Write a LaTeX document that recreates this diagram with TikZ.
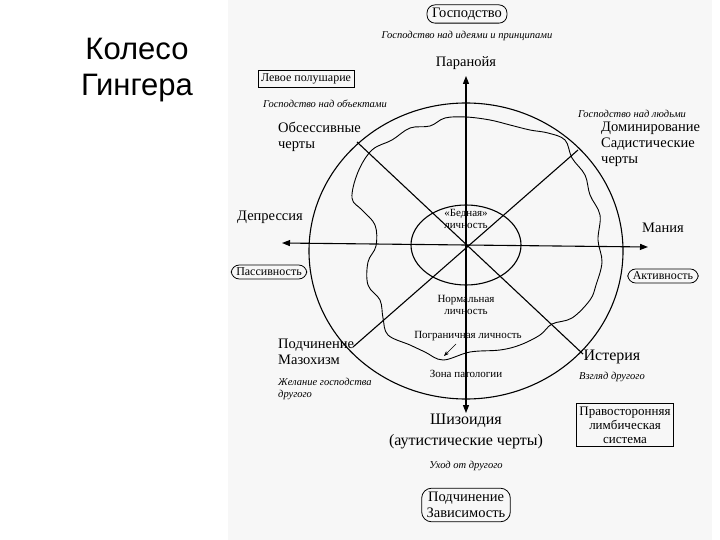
\documentclass[tikz,border=0pt]{standalone}
\usepackage{fontspec}
\setmainfont{Liberation Serif}
\newfontfamily\titlefont{Liberation Sans}
\usetikzlibrary{arrows.meta}
\begin{document}
\begin{tikzpicture}[x=1pt,y=-1pt,
  lbl/.style={font=\fontsize{14.5}{16}\selectfont,align=center,inner sep=1pt},
  sml/.style={font=\fontsize{11}{12.5}\selectfont,align=center,inner sep=1pt},
  itl/.style={font=\fontsize{10.5}{12.5}\selectfont\itshape,align=left,inner sep=1pt},
  rbox/.style={lbl,draw,rounded corners=8pt,inner xsep=5pt,inner ysep=3pt,thick},
  sbox/.style={lbl,draw,inner sep=3pt,thick},
  ln/.style={line width=1.1pt},
  arr/.style={ln,-{Triangle[length=8pt,width=6pt]}}]
\useasboundingbox (0,0) rectangle (720,540);
\fill[white] (0,0) rectangle (720,540);
\fill[gray!6] (228,0) rectangle (712,540);
\node[font=\titlefont\fontsize{31}{36}\selectfont,align=center] (title) at (137,70) {Колесо\\Гингера};
% circles
\draw[ln] (466,251) ellipse [x radius=157,y radius=148];
\draw[ln] (466,245) ellipse [x radius=55,y radius=40];
% wavy zone
\draw[line width=0.9pt] plot[smooth cycle,tension=0.6] coordinates{
(352,198)(358,172)(372,150)(392,140)(410,128)(430,126)(445,118)(466,117)(490,120)(510,125)(530,130)(548,133)(565,140)(572,158)(585,175)(590,195)(600,215)(598,240)(602,262)(596,285)(590,300)(572,318)(552,324)(540,335)(520,345)(500,350)(470,352)(443,360)(425,352)(410,345)(388,335)(383,318)(380,300)(368,285)(368,262)(376,246)(375,225)(362,210)};
% axes
\coordinate (c) at (466,245);
\coordinate (up) at (466,76);
\coordinate (dn) at (466,413);
\coordinate (lf) at (282,243);
\coordinate (rt) at (648,247);
\coordinate (zb) at (466,370);
\draw[arr] (zb) -- (up);
\draw[arr] (c) -- (dn);
\draw[arr] (c) -- (lf);
\draw[arr] (c) -- (rt);
\coordinate (ul) at (357,142);
\coordinate (dr) at (583,354);
\coordinate (ur) at (578,150);
\coordinate (dl) at (353,347);
\draw[ln] (ul) -- (dr);
\draw[ln] (ur) -- (dl);
% texts top
\node[rbox] (gosp) at (467,14) {Господство};
\node[itl] (gi) at (467,36) {Господство над идеями и принципами};
\node[lbl] (par) at (466,63) {Паранойя};
\node[sbox,font=\fontsize{12}{13}\selectfont] (lp) at (306,79) {Левое полушарие};
\node[itl] (go) at (325,104) {Господство над объектами};
\node[lbl,align=left,anchor=north west] (obs) at (277,121) {Обсессивные\\черты};
\node[itl] (gl) at (632,114) {Господство над людьми};
\node[lbl,align=left,anchor=north west] (dom) at (600,121) {Доминирование\\Садистические\\черты};
% sides
\node[lbl] (dep) at (270,217) {Депрессия};
\node[rbox,font=\fontsize{12}{13}\selectfont] (pas) at (269,272) {Пассивность};
\node[lbl] (man) at (663,228) {Мания};
\node[rbox,font=\fontsize{12}{13}\selectfont] (akt) at (663,276) {Активность};
% inner
\node[sml] (bed) at (466,219) {«Бедная»\\личность};
\node[sml] (norm) at (466,305) {Нормальная\\личность};
\node[sml] (pogr) at (468,336) {Пограничная личность};
\node[sml] (zona) at (466,374) {Зона патологии};
\coordinate (pa) at (456,344);
\draw[-{Stealth[length=5pt]}] (pa) -- (444,356);
% bottom
\node[lbl,align=left,anchor=north west] (pod) at (277,338) {Подчинение\\Мазохизм};
\node[itl,anchor=north west] (zh) at (277,377) {Желание господства\\другого};
\node[lbl,font=\fontsize{16}{18}\selectfont] (ist) at (612,357) {Истерия};
\node[itl] (vz) at (612,377) {Взгляд другого};
\node[sbox,font=\fontsize{13}{14}\selectfont] (prav) at (625,425) {Правосторонняя\\лимбическая\\система};
\node[lbl,font=\fontsize{16}{21}\selectfont] (shiz) at (466,431) {Шизоидия\\(аутистические черты)};
\node[itl] (uh) at (466,466) {Уход от другого};
\node[rbox,rounded corners=10pt,inner ysep=4pt] (zav) at (466,505) {Подчинение\\Зависимость};
\end{tikzpicture}
\end{document}
